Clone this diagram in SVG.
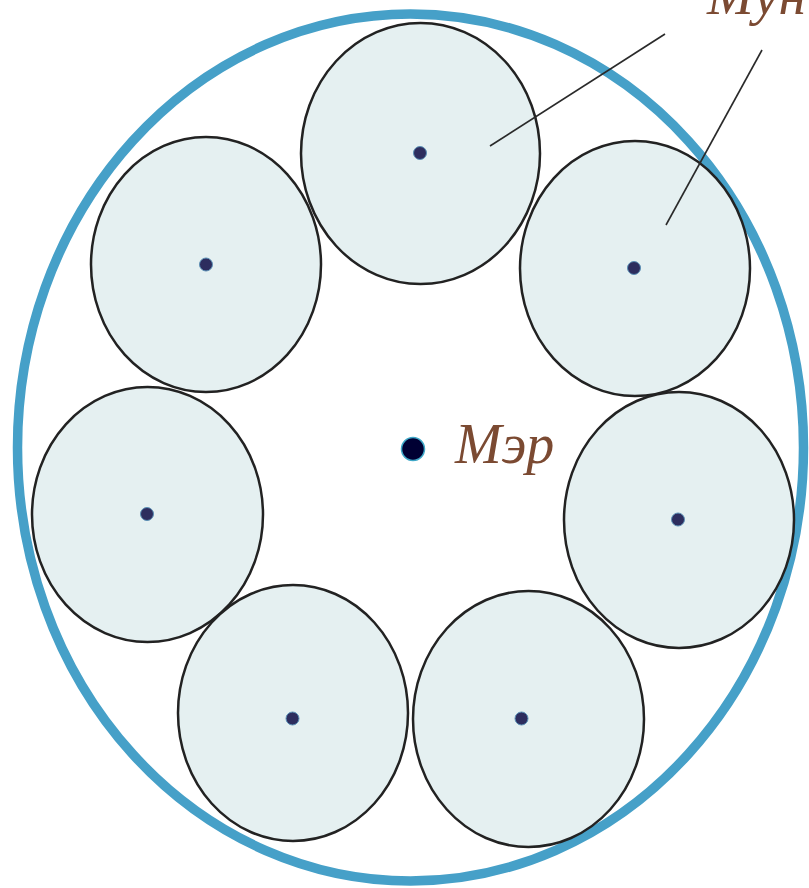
<svg xmlns="http://www.w3.org/2000/svg" width="809" height="888" viewBox="0 0 809 888">
<style>
.cell{fill:#e5f0f1;stroke:#222;stroke-width:2.5}
.dot{fill:#2d2d5e;stroke:#5a8fb5;stroke-width:1}
.lbl{font-family:"Liberation Serif",serif;font-style:italic;fill:#7b4a32;font-size:56px}
.lead{stroke:#2a2a2a;stroke-width:1.6;fill:none}
</style>
<rect width="809" height="888" fill="#fff"/>
<g id="outer"><ellipse cx="410.5" cy="447.5" rx="393" ry="433.5" fill="none" stroke="#46a0c8" stroke-width="9.5"/></g>
<g id="cell-top"><ellipse class="cell" cx="420.5" cy="153.5" rx="119.5" ry="130.5"/><circle class="dot" cx="420" cy="153" r="6.5"/></g>
<g id="cell-upper-left"><ellipse class="cell" cx="206" cy="264.5" rx="115" ry="127.5"/><circle class="dot" cx="206" cy="264.5" r="6.5"/></g>
<g id="cell-upper-right"><ellipse class="cell" cx="635" cy="268.5" rx="115" ry="127.5"/><circle class="dot" cx="634" cy="268" r="6.5"/></g>
<g id="cell-left"><ellipse class="cell" cx="147.5" cy="514.5" rx="115.5" ry="127.5"/><circle class="dot" cx="147" cy="514" r="6.5"/></g>
<g id="cell-right"><ellipse class="cell" cx="679" cy="520" rx="115" ry="128"/><circle class="dot" cx="678" cy="519.5" r="6.5"/></g>
<g id="cell-bottom-left"><ellipse class="cell" cx="293" cy="713" rx="115" ry="128"/><circle class="dot" cx="292.5" cy="718.5" r="6.5"/></g>
<g id="cell-bottom-right"><ellipse class="cell" cx="528.5" cy="719" rx="115.5" ry="128"/><circle class="dot" cx="521.5" cy="718.5" r="6.5"/></g>
<g id="center"><circle cx="413" cy="449" r="11.5" fill="#000033" stroke="#3fa8c8" stroke-width="1.5"/><text class="lbl" x="455" y="463">Мэр</text></g>
<g id="connectors"><line class="lead" x1="665" y1="34" x2="490" y2="146"/><line class="lead" x1="762" y1="50" x2="666" y2="225"/></g>
<g id="label-top"><text class="lbl" x="707" y="14">Мун</text></g>
</svg>
